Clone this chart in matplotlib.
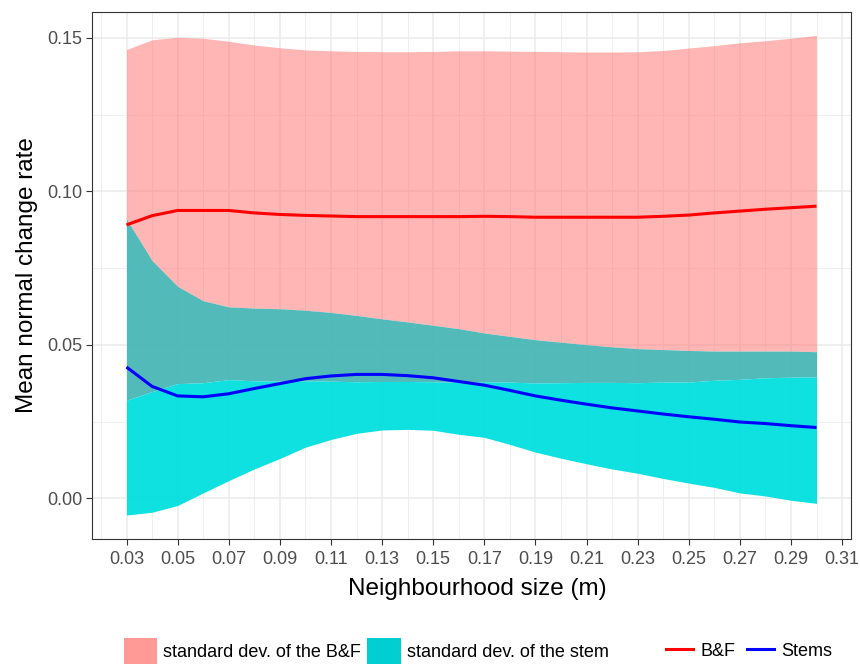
import numpy as np
import matplotlib
matplotlib.use("Agg")
import matplotlib.pyplot as plt
from matplotlib.patches import Patch
from matplotlib.lines import Line2D
from matplotlib.ticker import FixedLocator

plt.rcParams['font.family'] = ['Liberation Sans', 'DejaVu Sans']

# Neighbourhood sizes (m)
sizes = [0.03, 0.04, 0.05, 0.06, 0.07, 0.08, 0.09, 0.10, 0.11, 0.12,
         0.13, 0.14, 0.15, 0.16, 0.17, 0.18, 0.19, 0.20, 0.21, 0.22,
         0.23, 0.24, 0.25, 0.26, 0.27, 0.28, 0.29, 0.30]

# Branches & foliage: mean normal change rate and its standard deviation
bf_mean = [0.0891, 0.0921, 0.0938, 0.0938, 0.0938, 0.0930, 0.0925, 0.0922, 0.0920, 0.0918,
           0.0918, 0.0918, 0.0918, 0.0918, 0.0919, 0.0918, 0.0916, 0.0916, 0.0916, 0.0916,
           0.0916, 0.0919, 0.0923, 0.0930, 0.0936, 0.0942, 0.0947, 0.0952]
bf_sd = [0.0571, 0.0573, 0.0564, 0.0561, 0.0551, 0.0547, 0.0543, 0.0539, 0.0538, 0.0538,
         0.0537, 0.0537, 0.0538, 0.0540, 0.0539, 0.0539, 0.0540, 0.0539, 0.0538, 0.0538,
         0.0539, 0.0540, 0.0544, 0.0545, 0.0548, 0.0549, 0.0552, 0.0556]

# Stems: mean normal change rate and its standard deviation
stem_mean = [0.0428, 0.0365, 0.0334, 0.0331, 0.0341, 0.0358, 0.0374, 0.0390, 0.0399, 0.0404,
             0.0404, 0.0400, 0.0393, 0.0381, 0.0369, 0.0352, 0.0334, 0.0320, 0.0307, 0.0295,
             0.0285, 0.0275, 0.0266, 0.0258, 0.0249, 0.0244, 0.0237, 0.0231]
stem_sd = [0.0482, 0.0410, 0.0357, 0.0313, 0.0283, 0.0262, 0.0244, 0.0223, 0.0207, 0.0192,
           0.0181, 0.0175, 0.0171, 0.0172, 0.0170, 0.0176, 0.0183, 0.0189, 0.0194, 0.0199,
           0.0203, 0.0210, 0.0216, 0.0222, 0.0231, 0.0236, 0.0243, 0.0247]

x_tick_labels = ['0.03', '0.05', '0.07', '0.09', '0.11', '0.13', '0.15', '0.17',
                 '0.19', '0.21', '0.23', '0.25', '0.27', '0.29', '0.31']
y_tick_labels = ['0.00', '0.05', '0.10', '0.15']

legend_fill_labels = ['standard dev. of the B&F', 'standard dev. of the stem']
legend_line_labels = ['B&F', 'Stems']

x = np.array(sizes)
bf_m, bf_s = np.array(bf_mean), np.array(bf_sd)
st_m, st_s = np.array(stem_mean), np.array(stem_sd)
bf_lo, bf_hi = bf_m - bf_s, bf_m + bf_s
st_lo, st_hi = st_m - st_s, st_m + st_s

W, H = 860, 664
fig = plt.figure(figsize=(W / 100, H / 100), dpi=100)
L, R, T, B = 92, 851, 11.5, 539
ax = fig.add_axes([L / W, 1 - B / H, (R - L) / W, (B - T) / H])

pink = '#FF6E6A'
cyan = '#00DEDF'
teal = '#48B6B6'

# band pieces: B&F only, overlap of both, stems only
ov_lo = np.maximum(bf_lo, st_lo)
ov_hi = np.minimum(bf_hi, st_hi)
ax.fill_between(x, np.maximum(ov_hi, bf_lo), bf_hi, color=pink, alpha=0.5, lw=0, zorder=2)
ax.fill_between(x, ov_lo, ov_hi, color=teal, alpha=0.94, lw=0, zorder=2)
ax.fill_between(x, st_lo, np.minimum(ov_lo, st_hi), color=cyan, alpha=0.94, lw=0, zorder=2)

ax.plot(x, bf_m, color='#FF0000', lw=2.2, zorder=3, solid_capstyle='butt')
ax.plot(x, st_m, color='#0000FF', lw=2.2, zorder=3, solid_capstyle='butt')

# y range padded by 5% of the data span
ylo, yhi = min(st_lo.min(), bf_lo.min()), max(st_hi.max(), bf_hi.max())
yr = yhi - ylo
ax.set_ylim(ylo - 0.05 * yr, yhi + 0.05 * yr)
ax.set_xlim(0.0165, 0.3135)

ax.xaxis.set_major_locator(FixedLocator([float(t) for t in x_tick_labels]))
ax.set_xticklabels(x_tick_labels)
ax.xaxis.set_minor_locator(FixedLocator(np.round(np.arange(0.02, 0.33, 0.02), 2)))
ax.yaxis.set_major_locator(FixedLocator([float(t) for t in y_tick_labels]))
ax.set_yticklabels(y_tick_labels)
ax.yaxis.set_minor_locator(FixedLocator([-0.025, 0.025, 0.075, 0.125, 0.175]))

ax.grid(which='major', color='#EBEBEB', lw=1.1, zorder=0)
ax.grid(which='minor', color='#EBEBEB', lw=0.55, zorder=0)
ax.set_axisbelow(True)
ax.tick_params(which='major', length=4, width=0.8, color='#333333',
               labelsize=13, labelcolor='#4D4D4D', pad=3)
ax.tick_params(axis='x', which='major', pad=5)
ax.tick_params(which='minor', length=0)
for s in ax.spines.values():
    s.set_color('#333333')
    s.set_linewidth(0.8)

ax.set_xlabel('Neighbourhood size (m)', fontsize=17.5, color='black')
ax.set_ylabel('Mean normal change rate', fontsize=17.5, color='black')
ax.xaxis.set_label_coords((477 - L) / (R - L), (B - 578) / (B - T))
ax.yaxis.set_label_coords((38 - L) / (R - L), 0.5)

fill_handles = [Patch(facecolor='#FF9A96', edgecolor='none'),
                Patch(facecolor='#00CED1', edgecolor='none')]
line_handles = [Line2D([], [], color='#FF0000', lw=2.2),
                Line2D([], [], color='#0000FF', lw=2.2)]

fig.legend(fill_handles, legend_fill_labels, ncol=2, frameon=False,
           loc='center left', bbox_to_anchor=(124 / W, 1 - 651 / H),
           fontsize=13, handlelength=1.85, handleheight=1.9,
           handletextpad=0.33, columnspacing=0.33, borderpad=0, borderaxespad=0)
fig.legend(line_handles, legend_line_labels, ncol=2, frameon=False,
           loc='center left', bbox_to_anchor=(666 / W, 1 - 651 / H),
           fontsize=13, handlelength=1.5, handleheight=1.0,
           handletextpad=0.4, columnspacing=0.65, borderpad=0, borderaxespad=0)

fig.savefig('out.png', dpi=100)
